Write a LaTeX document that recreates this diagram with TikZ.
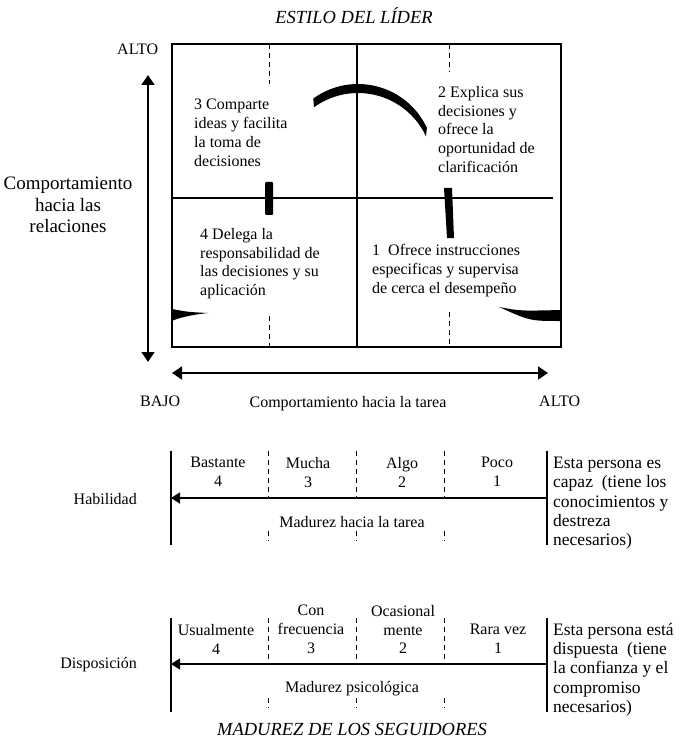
\documentclass[tikz,border=0pt]{standalone}
\usepackage{fontspec}
\setmainfont{Liberation Serif}
\usetikzlibrary{arrows.meta,calc}
\begin{document}
\begin{tikzpicture}[x=1pt,y=-1pt,
  txt/.style={inner sep=0pt, font=\fontsize{16}{18.8}\selectfont},
  lbl/.style={txt, align=left, anchor=north west},
  side/.style={inner sep=0pt, font=\fontsize{17.5}{19.3}\selectfont, align=left, anchor=north west},
  ctr/.style={txt, align=center, anchor=north},
  ttl/.style={inner sep=0pt, font=\fontsize{18.5}{20}\selectfont\itshape, anchor=center},
  frame/.style={line width=1.1pt},
  dashline/.style={line width=1pt, dash pattern=on 5pt off 4pt},
  bigarrow/.style={line width=1.4pt, {Triangle[length=10pt,width=13pt]}-{Triangle[length=10pt,width=13pt]}},
  scalearrow/.style={line width=1.4pt, -{Triangle[length=9pt,width=11pt]}}
]
\fill[white] (0,0) rectangle (682,743);
\useasboundingbox (0,0) rectangle (682,743);

% ---------- leadership style grid ----------
\coordinate (tl) at (172,44);
\coordinate (br) at (561,347);
\draw[frame] (tl) rectangle (br);
\coordinate (midtop) at (357,44);
\coordinate (midbot) at (357,347);
\draw[frame] (midtop) -- (midbot);
\coordinate (hl) at (172,198);
\coordinate (hr) at (553,198);
\draw[frame] (hl) -- (hr);

% dashed guides in each half
\draw[dashline] (269,44) -- (269,84);
\draw[dashline] (269,316) -- (269,347);
\draw[dashline] (449,44) -- (449,72);
\draw[dashline] (449,312) -- (449,347);

% pieces of the style curve
\coordinate (arcc) at (358,160);
\fill ($(arcc)+(-126:76)$) arc[start angle=-126,end angle=-25,radius=76]
  -- ($(arcc)+(0,8)+(-25:75)$) arc[start angle=-25,end angle=-126,radius=75] -- cycle;
\fill[rounded corners=1pt] (265,182) rectangle (273,215);
\fill (444,188) -- (452,188) -- (454,238) -- (447,238) -- cycle;
\fill (172,309) .. controls (188,312) .. (208,313) .. controls (190,315) and (178,318) .. (172,321) -- cycle;
\fill (499,307) .. controls (520,311) .. (561,310) -- (561,321) .. controls (530,321) .. (499,307) -- cycle;

% axes
\coordinate (vtop) at (148,75);
\coordinate (vbot) at (148,362);
\draw[bigarrow] (vtop) -- (vbot);
\coordinate (hleft) at (172,373);
\coordinate (hright) at (548,373);
\draw[bigarrow] (hleft) -- (hright);

% texts of the grid
\node[ttl] (estilo) at (354,16) {ESTILO DEL LÍDER};
\node[lbl] (altoy) at (117,44) {ALTO};
\node[inner sep=0pt, font=\fontsize{19}{21.5}\selectfont, align=center, anchor=north] (relac) at (68,177) {Comportamiento\\hacia las\\relaciones};
\node[lbl] (q3) at (194,99) {3 Comparte\\ideas y facilita\\la toma de\\decisiones};
\node[lbl] (q2) at (438,86) {2 Explica sus\\decisiones y\\ofrece la\\oportunidad de\\clarificación};
\node[lbl] (q4) at (200,228) {4 Delega la\\responsabilidad de\\las decisiones y su\\aplicación};
\node[lbl] (q1) at (372,244) {1\ \ Ofrece instrucciones\\especificas y supervisa\\de cerca el desempeño};
\node[lbl] (bajo) at (140,396) {BAJO};
\node[ctr] (tarea) at (348,396) {Comportamiento hacia la tarea};
\node[lbl] (altox) at (539,396) {ALTO};

% ---------- ability scale ----------
\coordinate (a1t) at (171,451);  \coordinate (a1b) at (171,545);
\coordinate (a5t) at (547,451);  \coordinate (a5b) at (547,545);
\draw[frame] (a1t) -- (a1b);
\draw[frame] (a5t) -- (a5b);
\foreach \xx in {268,356,444}{
  \draw[dashline] (\xx,451) -- (\xx,498);
  \draw[dashline] (\xx,531) -- (\xx,541);
}
\coordinate (aarrs) at (547,498);
\coordinate (aarre) at (171,498);
\draw[scalearrow] (aarrs) -- (aarre);
\node[ctr] (bast) at (218,457) {Bastante\\4};
\node[ctr] (mucha) at (308,457) {Mucha\\3};
\node[ctr] (algo) at (402,457) {Algo\\2};
\node[ctr] (poco) at (497,457) {Poco\\1};
\node[txt, anchor=east] (hab) at (137,499) {Habilidad};
\node[txt] (madt) at (352,522) {Madurez hacia la tarea};
\node[side] (capaz) at (553,457) {Esta persona es\\capaz\ \ (tiene los\\conocimientos y\\destreza\\necesarios)};

% ---------- willingness scale ----------
\coordinate (d1t) at (171,618);  \coordinate (d1b) at (171,712);
\coordinate (d5t) at (547,618);  \coordinate (d5b) at (547,712);
\draw[frame] (d1t) -- (d1b);
\draw[frame] (d5t) -- (d5b);
\foreach \xx in {268,356,444}{
  \draw[dashline] (\xx,618) -- (\xx,664);
  \draw[dashline] (\xx,698) -- (\xx,708);
}
\coordinate (darrs) at (547,664);
\coordinate (darre) at (171,664);
\draw[scalearrow] (darrs) -- (darre);
\node[ctr] (usual) at (216,624) {Usualmente\\4};
\node[ctr] (confr) at (311,605) {Con\\frecuencia\\3};
\node[ctr] (ocas) at (403,605) {Ocasional\\mente\\2};
\node[ctr] (rara) at (498,624) {Rara vez\\1};
\node[txt, anchor=east] (disp) at (137,665) {Disposición};
\node[txt] (madp) at (352,689) {Madurez psicológica};
\node[side] (dispu) at (553,623) {Esta persona está\\dispuesta\ \ (tiene\\la confianza y el\\compromiso\\necesarios)};

\node[ttl] (madurez) at (352,729) {MADUREZ DE LOS SEGUIDORES};
\end{tikzpicture}
\end{document}
